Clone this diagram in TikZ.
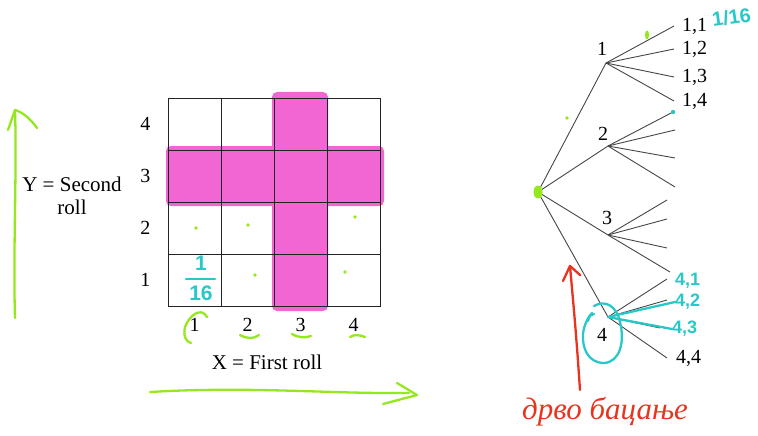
\documentclass[tikz,border=0pt]{standalone}
\usepackage{fontspec}
\setmainfont{Liberation Serif}
\newfontfamily\notefont{Liberation Sans}
\usetikzlibrary{positioning,arrows.meta}
\definecolor{gridcol}{RGB}{35,35,35}
\definecolor{treecol}{RGB}{70,70,70}
\definecolor{hilitecol}{RGB}{240,75,205}
\definecolor{limecol}{RGB}{150,232,30}
\definecolor{cyancol}{RGB}{40,200,200}
\definecolor{redcol}{RGB}{232,52,30}

\begin{document}
\begin{tikzpicture}[
  x=1pt, y=-1pt,
  every node/.style={font=\fontsize{20}{23}\selectfont, inner sep=0pt},
  cell/.style={draw=gridcol, line width=0.9pt, minimum width=53pt, minimum height=52pt},
  branch/.style={draw=treecol, line width=0.9pt},
  limepen/.style={draw=limecol, line width=2.3pt, line cap=round, line join=round},
  cyanpen/.style={draw=cyancol, line width=2.3pt, line cap=round, line join=round},
  redpen/.style={draw=redcol, line width=2.3pt, line cap=round, line join=round},
  cyannote/.style={text=cyancol, font=\notefont\bfseries\fontsize{18}{19}\selectfont},
  dab/.style={fill=limecol, draw=none}
]
\useasboundingbox (0,0) rectangle (758,436);

% ---------------- grid ----------------
\fill[hilitecol, opacity=0.85, rounded corners=5pt]
  (272,92) rectangle (328,311) (166,146) rectangle (384,206);
\foreach \i in {1,...,4}
  \foreach \j in {1,...,4}
    \node[cell] (c\i\j) at ({194.5+53*(\i-1)}, {280-52*(\j-1)}) {};
\foreach \j in {1,...,4}
  \node[left=17pt of c1\j] (ry\j) {\j};
\foreach \i in {1,...,4}
  \node[below=12pt of c\i1] (rx\i) {\i};

\node[align=center, font=\fontsize{21}{23}\selectfont] (ylab) at (72,196) {Y = Second\\roll};
\node[font=\fontsize{21}{23}\selectfont] (xlab) at (267,362) {X = First roll};

% ---------------- tree ----------------
\coordinate (root) at (538,192);
\coordinate (n1) at (606,63);
\coordinate (n2) at (608,146);
\coordinate (n3) at (608,235);
\coordinate (n4) at (608,317);
\coordinate (l11) at (674,26);  \coordinate (l12) at (674,49);
\coordinate (l13) at (674,77);  \coordinate (l14) at (674,101);
\coordinate (l21) at (673,112); \coordinate (l22) at (675,130);
\coordinate (l23) at (675,158); \coordinate (l24) at (675,187);
\coordinate (l31) at (667,200); \coordinate (l32) at (667,219);
\coordinate (l33) at (667,248); \coordinate (l34) at (670,272);
\coordinate (l41) at (667,279); \coordinate (l42) at (667,300);
\coordinate (l43) at (660,328); \coordinate (l44) at (667,358);

\foreach \k in {1,...,4} {
  \draw[branch] (root) -- (n\k);
  \foreach \m in {1,...,4}
    \draw[branch] (n\k) -- (l\k\m);
}

\node[above=7pt of n1, xshift=-4pt] (t1) {1};
\node[above=5pt of n2, xshift=-5pt] (t2) {2};
\node[above=10pt of n3, xshift=-1pt] (t3) {3};
\node[below=11pt of n4, xshift=-6pt] (t4) {4};

\foreach \m in {1,...,4}
  \node[right=8pt of l1\m] (k1\m) {1,\m};
\node[right=9pt of l44] (k44) {4,4};

% ---------------- notes ----------------
% cyan
\node[cyannote, font=\notefont\bfseries\fontsize{21}{22}\selectfont] (f1) at (201,263) {1};
\node[cyannote, font=\notefont\bfseries\fontsize{21}{22}\selectfont] (f16) at (201,293) {16};
\draw[cyanpen] (186,279) -- (215,279);
\node[cyannote, anchor=west, rotate=8, font=\notefont\bfseries\fontsize{20}{21}\selectfont] (corner) at (712,20) {1/16};
\fill[cyancol] (l21) circle (2.2pt);
\node[cyannote, anchor=west] (k41) at (675,281) {4,1};
\node[cyannote, anchor=west] (k42) at (675,302) {4,2};
\node[cyannote, anchor=west] (k43) at (672,329) {4,3};
\draw[cyanpen] (k42.west) -- (n4) -- (k43.west);
\draw[cyanpen] (588,321) .. controls (589,316) and (591,314) .. (594,314);
\draw[cyanpen] (594,306) .. controls (606,299) and (617,307) .. (620,322)
  .. controls (625,342) and (620,362) .. (604,363)
  .. controls (588,363) and (582,348) .. (583,334)
  .. controls (584,325) and (588,317) .. (592,313);

% lime
\coordinate (yfoot) at (15,318);
\coordinate (ytip) at (15,110);
\draw[limepen] (yfoot) .. controls (13,250) and (17,170) .. (ytip);
\draw[limepen] (8,130) .. controls (11,120) .. (ytip) .. controls (22,112) and (30,118) .. (37,128);
\coordinate (xfoot) at (150,392);
\coordinate (xtip) at (417,395);
\draw[limepen] (xfoot) .. controls (250,386) and (330,394) .. (409,393);
\draw[limepen] (397,383) -- (xtip) -- (383,404);
\draw[limepen] (207,317) .. controls (201,306) and (189,316) .. (185,327)
  .. controls (183,336) and (186,342) .. (191,343);
\draw[limepen] (240,335) .. controls (247,339) and (254,339) .. (259,335);
\draw[limepen] (292,334) .. controls (299,338) and (305,338) .. (311,336);
\draw[limepen] (350,337) .. controls (354,334) and (360,335) .. (365,337);
\foreach \p in {(196,228),(248,225),(355,217),(255,275),(345,272),(567,118)}
  \fill[dab] \p circle (1.8pt);
\fill[dab] (647,35) ellipse (2pt and 4.5pt);
\fill[dab] (root) ellipse (4.5pt and 6.5pt);

% red
\coordinate (rfoot) at (580,390);
\coordinate (rtip) at (570,266);
\draw[redpen] (rfoot) .. controls (576,330) and (573,300) .. (rtip);
\draw[redpen] (563,281) -- (rtip) -- (580,275);
\node[text=redcol, font=\itshape\fontsize{31}{33}\selectfont] (title) at (605,412) {дрво бацање};

\end{tikzpicture}
\end{document}
